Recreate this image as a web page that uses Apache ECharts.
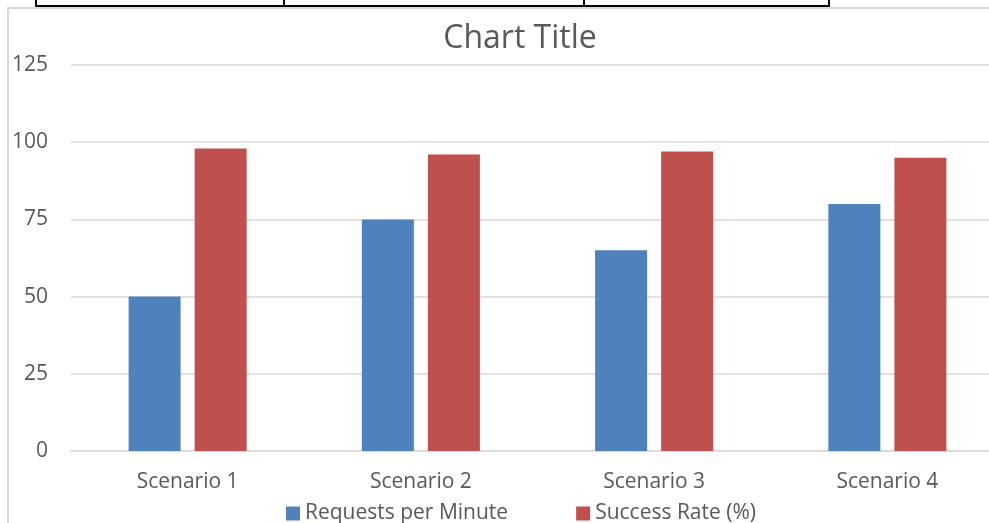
<!DOCTYPE html>
<html>
<head>
<meta charset="utf-8">
<script src="https://cdn.jsdelivr.net/npm/echarts@6/dist/echarts.min.js"></script>
<style>html,body{margin:0;padding:0;background:#fff;overflow:hidden;width:989px;height:523px;}#c{width:1020px;height:523px;}</style>
</head>
<body>
<div id="c"></div>
<script>
const categories = ['Scenario 1', 'Scenario 2', 'Scenario 3', 'Scenario 4'];
const requestsPerMinute = [50, 75, 65, 80];
const successRate = [98, 96, 97, 95];
const yTicks = { min: 0, max: 125, interval: 25 };

const chart = echarts.init(document.getElementById('c'));
const font = '"Open Sans", "Noto Sans", sans-serif';
chart.setOption({
  animation: false,
  backgroundColor: '#fff',
  title: {
    text: 'Chart Title',
    left: 520, top: 23, textAlign: 'center', padding: 0,
    textStyle: { fontFamily: font, fontSize: 32, fontWeight: 'normal', color: '#595959' }
  },
  legend: {
    left: 286, top: 503, padding: 0,
    itemWidth: 14, itemHeight: 14, itemGap: 68, icon: 'rect',
    textStyle: { fontFamily: font, fontSize: 21, color: '#595959', padding: [0, 0, 0, 0] },
    data: ['Requests per Minute', 'Success Rate (%)']
  },
  grid: { left: 71, top: 65, bottom: 72, right: 16, containLabel: false },
  xAxis: {
    type: 'category', data: categories,
    axisLine: { lineStyle: { color: '#d9d9d9', width: 1.5 } },
    axisTick: { show: false },
    axisLabel: { fontFamily: font, fontSize: 21, color: '#595959', margin: 21 }
  },
  yAxis: {
    type: 'value', min: yTicks.min, max: yTicks.max, interval: yTicks.interval,
    axisLine: { show: false }, axisTick: { show: false },
    splitLine: { lineStyle: { color: '#d9d9d9', width: 1.5 } },
    axisLabel: { fontFamily: font, fontSize: 21, color: '#595959', margin: 23 }
  },
  series: [
    { name: 'Requests per Minute', type: 'bar', data: requestsPerMinute, barWidth: 52, barGap: '27%', itemStyle: { color: '#4F81BD' } },
    { name: 'Success Rate (%)', type: 'bar', data: successRate, barWidth: 52, barGap: '27%', itemStyle: { color: '#C0504D' } }
  ],
  graphic: [
    { type: 'rect', z: 100, shape: { x: 8, y: 8, width: 1200, height: 700 }, style: { fill: 'none', stroke: '#d9d9d9', lineWidth: 2 } },
    { type: 'line', z: 101, shape: { x1: 35, y1: 6, x2: 830, y2: 6 }, style: { stroke: '#000', lineWidth: 2 } },
    { type: 'line', z: 101, shape: { x1: 36, y1: 0, x2: 36, y2: 7 }, style: { stroke: '#000', lineWidth: 2 } },
    { type: 'line', z: 101, shape: { x1: 284, y1: 0, x2: 284, y2: 7 }, style: { stroke: '#000', lineWidth: 2 } },
    { type: 'line', z: 101, shape: { x1: 584, y1: 0, x2: 584, y2: 7 }, style: { stroke: '#000', lineWidth: 2 } },
    { type: 'line', z: 101, shape: { x1: 829, y1: 0, x2: 829, y2: 7 }, style: { stroke: '#000', lineWidth: 2 } }
  ]
});
</script>
</body>
</html>
